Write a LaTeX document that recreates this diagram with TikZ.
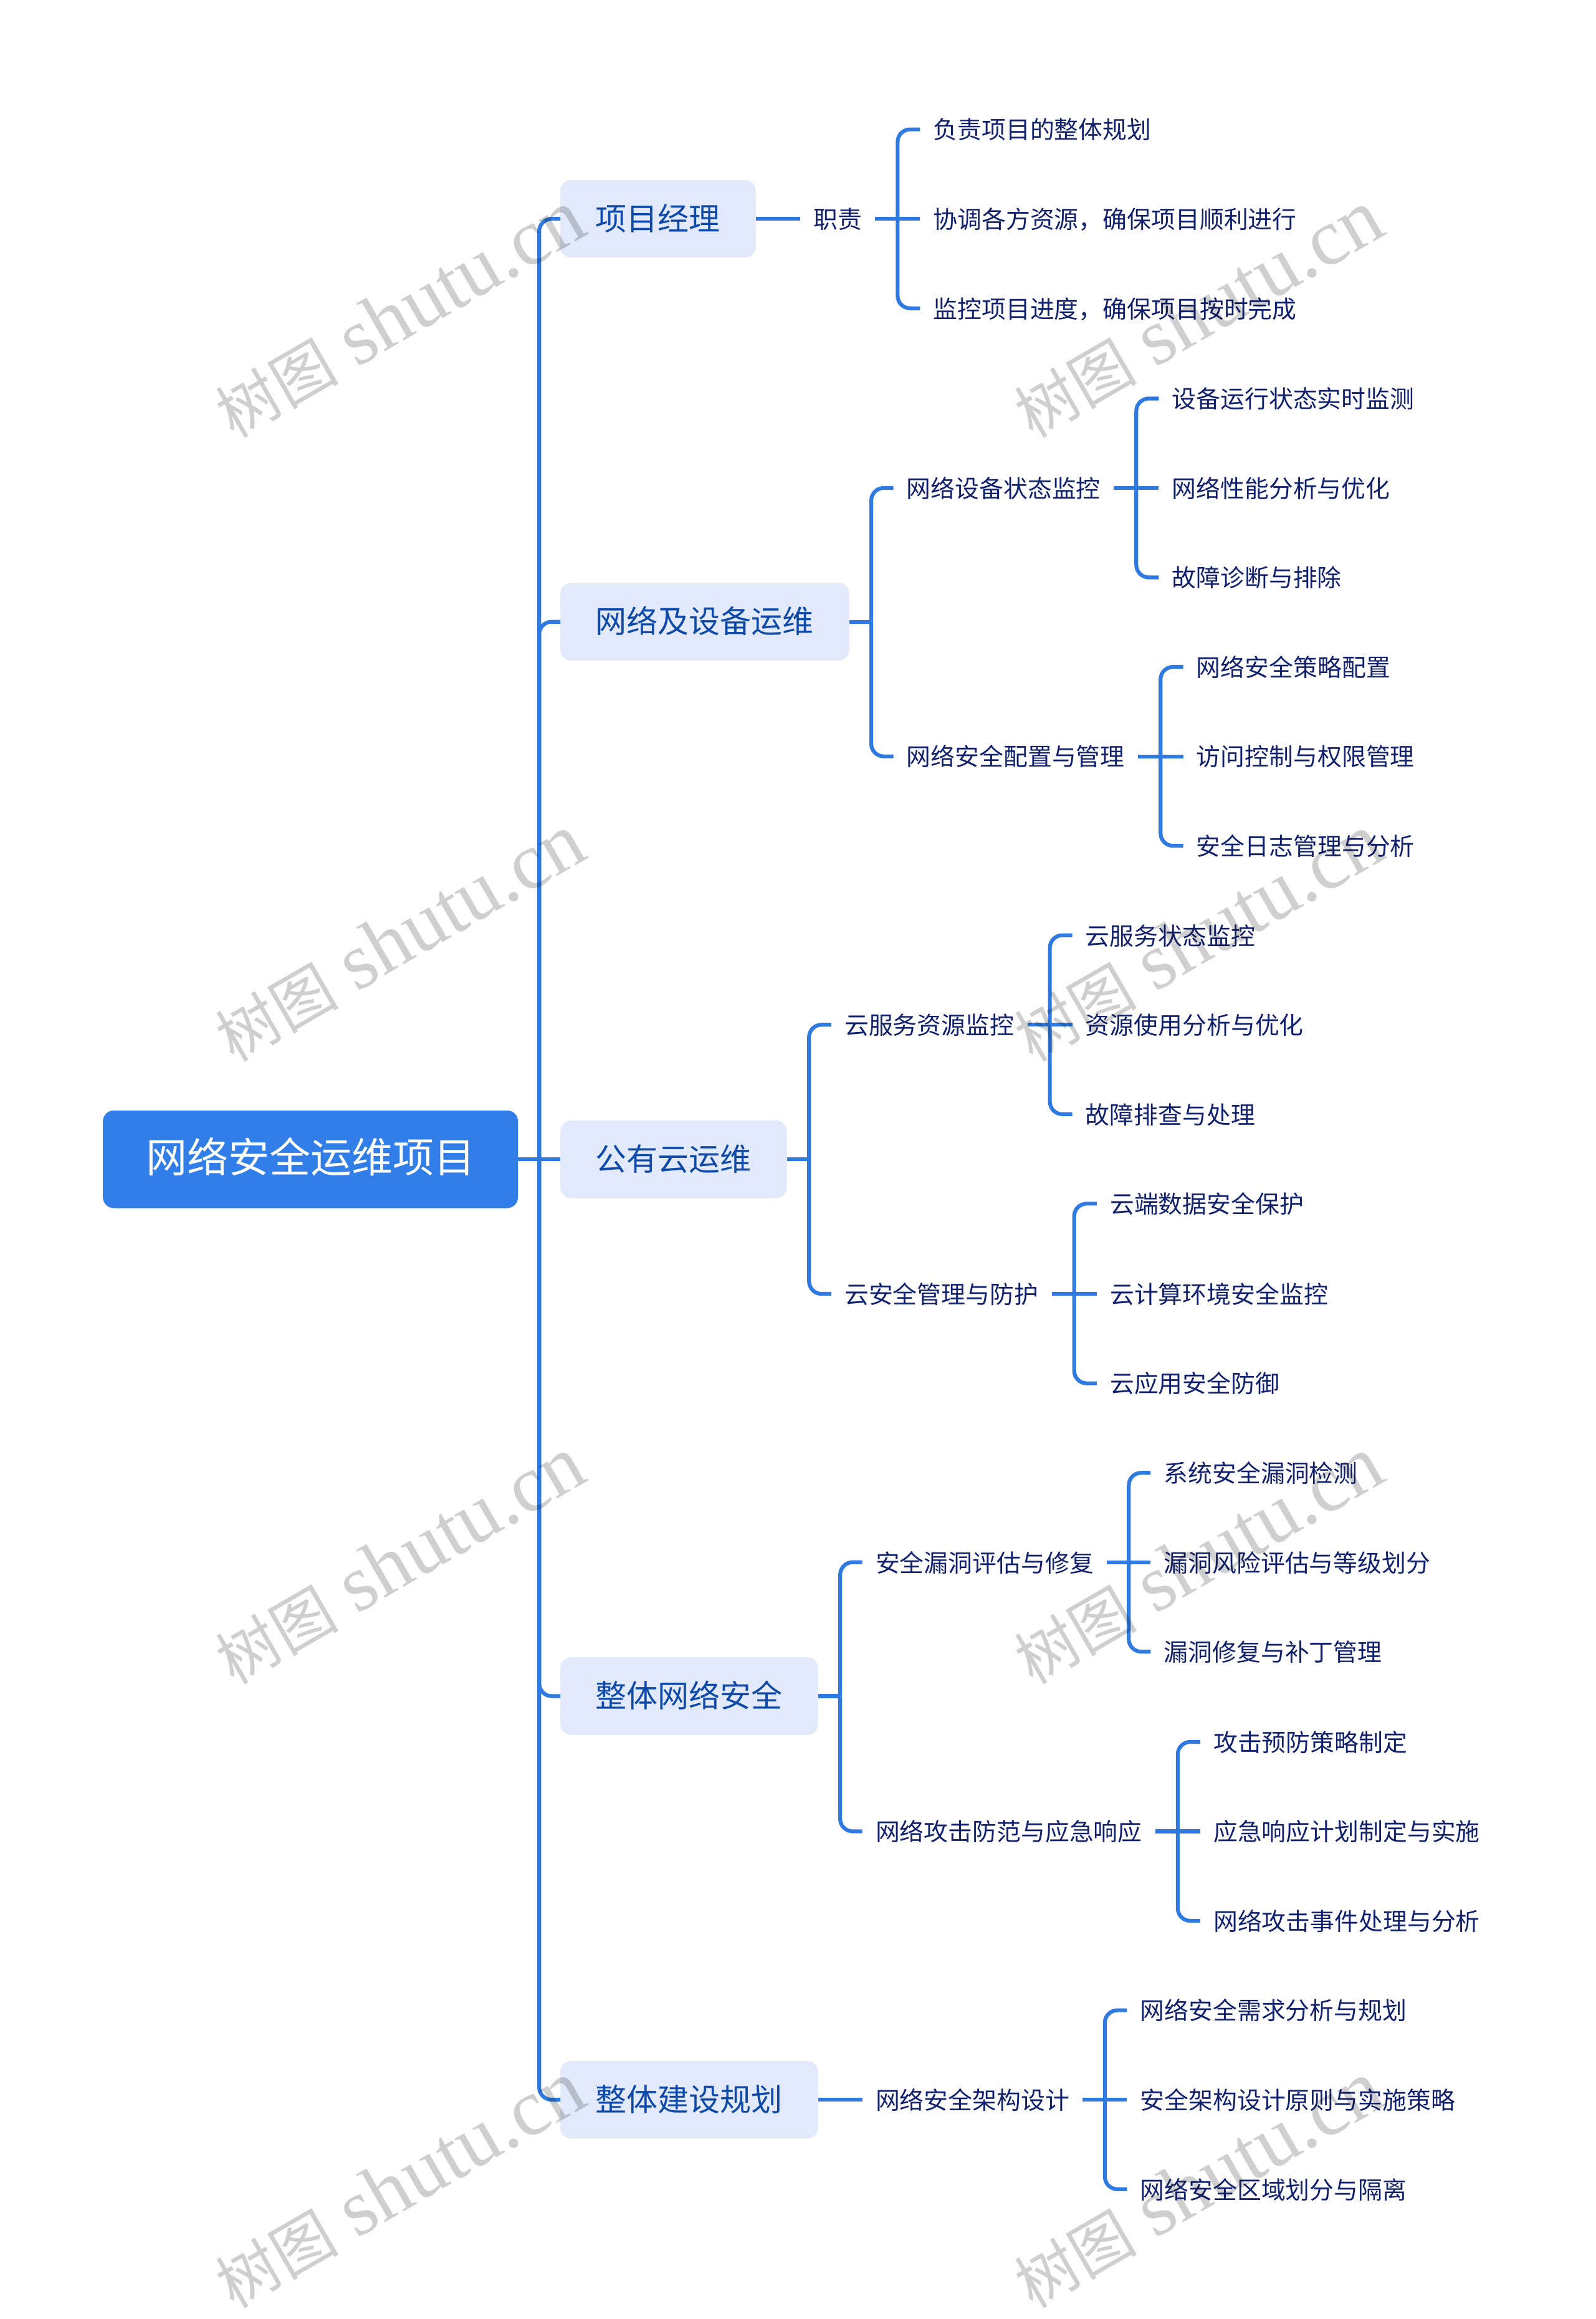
\documentclass[tikz,border=0pt]{standalone}
\usepackage{fontspec}
\setmainfont{Noto Sans CJK SC}
\newfontfamily\wmserif{Liberation Serif}
\usetikzlibrary{calc}
\definecolor{linkblue}{HTML}{2F7AE0}
\definecolor{rootblue}{HTML}{317EE9}
\definecolor{boxblue}{HTML}{E1E9FB}
\definecolor{branchtext}{HTML}{0F4AA8}
\definecolor{itemtext}{HTML}{12216E}
\tikzset{
  rootnode/.style={anchor=west,fill=rootblue,text=white,rounded corners=5.2pt,inner xsep=20.7pt,inner ysep=0pt,minimum height=47pt,font=\fontsize{19.8pt}{24pt}\selectfont,text height=1.25em,text depth=0pt,outer sep=0pt},
  branchnode/.style={anchor=west,fill=boxblue,text=branchtext,rounded corners=5.2pt,inner xsep=17pt,inner ysep=0pt,minimum height=37.4pt,font=\fontsize{15pt}{18pt}\selectfont,text height=1.09em,text depth=0pt,outer sep=0pt},
  itemnode/.style={anchor=west,text=itemtext,inner xsep=6.4pt,inner ysep=2pt,font=\fontsize{11.66pt}{14pt}\selectfont,text height=.92em,text depth=0pt,outer sep=0pt},
  link/.style={draw=linkblue,line width=1.85pt},
  wmark/.style={anchor=south west,rotate=30,inner sep=0pt,text=black,text opacity=.19}
}
\newcommand{\forkto}[2]{\coordinate (mid) at ($(#1.east)!.5!(#2.west)$);\draw[link] (#1.east) -- (#1.east -| mid);\draw[link,rounded corners=6pt] (#1.east -| mid) |- (#2.west);}
\newcommand{\straightto}[2]{\draw[link] (#1.east) -- (#2.west);}
\newcommand{\wmtext}{{\fontsize{29.5pt}{34pt}\selectfont 树图}\hspace{9pt}{\wmserif\fontsize{38.6pt}{44pt}\selectfont shutu.cn}}
\begin{document}
\begin{tikzpicture}[x=0.71178pt,y=-0.71178pt]
\useasboundingbox (0,0) rectangle (1079,1568.3);
\node[rootnode] (root) at (69.6,784) {网络安全运维项目};
\node[branchnode] (b1) at (379,148) {项目经理};
\node[branchnode] (b2) at (379,420.5) {网络及设备运维};
\node[branchnode] (b3) at (379,784) {公有云运维};
\node[branchnode] (b4) at (379,1147) {整体网络安全};
\node[branchnode] (b5) at (379,1420) {整体建设规划};
% level 2
\node[itemnode] (s1) at (541.2,148) {职责};
\node[itemnode] (s2) at (604.2,330) {网络设备状态监控};
\node[itemnode] (s3) at (604.2,511.5) {网络安全配置与管理};
\node[itemnode] (s4) at (562.2,693) {云服务资源监控};
\node[itemnode] (s5) at (562.2,875) {云安全管理与防护};
\node[itemnode] (s6) at (583.2,1056.5) {安全漏洞评估与修复};
\node[itemnode] (s7) at (583.2,1238.5) {网络攻击防范与应急响应};
\node[itemnode] (s8) at (583.2,1420) {网络安全架构设计};
% leaves
\node[itemnode] (l1a) at (622.2,87.5) {负责项目的整体规划};
\node[itemnode] (l1b) at (622.2,148) {协调各方资源，确保项目顺利进行};
\node[itemnode] (l1c) at (622.2,208.5) {监控项目进度，确保项目按时完成};
\node[itemnode] (l2a) at (783.7,269.5) {设备运行状态实时监测};
\node[itemnode] (l2b) at (783.7,330) {网络性能分析与优化};
\node[itemnode] (l2c) at (783.7,390.5) {故障诊断与排除};
\node[itemnode] (l3a) at (800.2,451) {网络安全策略配置};
\node[itemnode] (l3b) at (800.2,511.5) {访问控制与权限管理};
\node[itemnode] (l3c) at (800.2,572) {安全日志管理与分析};
\node[itemnode] (l4a) at (725.2,632.5) {云服务状态监控};
\node[itemnode] (l4b) at (725.2,693) {资源使用分析与优化};
\node[itemnode] (l4c) at (725.2,753.5) {故障排查与处理};
\node[itemnode] (l5a) at (741.7,814) {云端数据安全保护};
\node[itemnode] (l5b) at (741.7,875) {云计算环境安全监控};
\node[itemnode] (l5c) at (741.7,935.5) {云应用安全防御};
\node[itemnode] (l6a) at (778.2,996) {系统安全漏洞检测};
\node[itemnode] (l6b) at (778.2,1056.5) {漏洞风险评估与等级划分};
\node[itemnode] (l6c) at (778.2,1117) {漏洞修复与补丁管理};
\node[itemnode] (l7a) at (811.7,1178) {攻击预防策略制定};
\node[itemnode] (l7b) at (811.7,1238.5) {应急响应计划制定与实施};
\node[itemnode] (l7c) at (811.7,1299) {网络攻击事件处理与分析};
\node[itemnode] (l8a) at (762.2,1359.5) {网络安全需求分析与规划};
\node[itemnode] (l8b) at (762.2,1420) {安全架构设计原则与实施策略};
\node[itemnode] (l8c) at (762.2,1480.5) {网络安全区域划分与隔离};
% connectors
\forkto{root}{b1}\forkto{root}{b2}\straightto{root}{b3}\forkto{root}{b4}\forkto{root}{b5}
\straightto{b1}{s1}
\forkto{s1}{l1a}\straightto{s1}{l1b}\forkto{s1}{l1c}
\forkto{b2}{s2}\forkto{b2}{s3}
\forkto{s2}{l2a}\straightto{s2}{l2b}\forkto{s2}{l2c}
\forkto{s3}{l3a}\straightto{s3}{l3b}\forkto{s3}{l3c}
\forkto{b3}{s4}\forkto{b3}{s5}
\forkto{s4}{l4a}\straightto{s4}{l4b}\forkto{s4}{l4c}
\forkto{s5}{l5a}\straightto{s5}{l5b}\forkto{s5}{l5c}
\forkto{b4}{s6}\forkto{b4}{s7}
\forkto{s6}{l6a}\straightto{s6}{l6b}\forkto{s6}{l6c}
\forkto{s7}{l7a}\straightto{s7}{l7b}\forkto{s7}{l7c}
\straightto{b5}{s8}
\forkto{s8}{l8a}\straightto{s8}{l8b}\forkto{s8}{l8c}
% watermarks
\node[wmark] (w1) at (160,300) {\wmtext};
\node[wmark] (w2) at (700,300) {\wmtext};
\node[wmark] (w3) at (160,722) {\wmtext};
\node[wmark] (w4) at (700,722) {\wmtext};
\node[wmark] (w5) at (160,1143) {\wmtext};
\node[wmark] (w6) at (700,1143) {\wmtext};
\node[wmark] (w7) at (160,1565) {\wmtext};
\node[wmark] (w8) at (700,1565) {\wmtext};
\end{tikzpicture}
\end{document}
